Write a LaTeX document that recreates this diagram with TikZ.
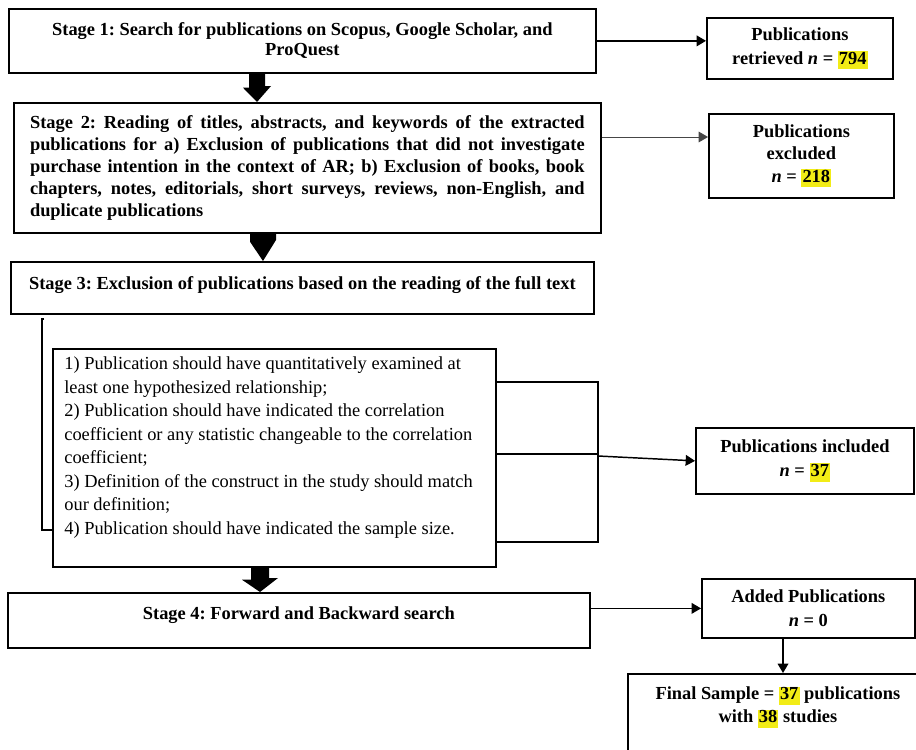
\documentclass[tikz,border=0pt]{standalone}
\usepackage{fontspec}
\setmainfont{Liberation Serif}
\usetikzlibrary{arrows.meta}
\definecolor{marker}{RGB}{242,236,22}
\newcommand{\yel}[1]{{\setlength{\fboxsep}{0.8pt}\colorbox{marker}{\vphantom{Ay}#1}}}
\frenchspacing

\begin{document}
\begin{tikzpicture}[
  x=0.75pt, y=-0.75pt,
  stage/.style={draw, line width=1.3pt, anchor=north west, align=center,
    inner sep=0pt, font=\fontsize{13.8}{15}\selectfont\bfseries},
  tally/.style={draw, line width=1.3pt, anchor=north west, align=center,
    inner sep=0pt, font=\fontsize{13.8}{18}\selectfont\bfseries},
  rules/.style={draw, line width=1.3pt, anchor=north west, inner sep=0pt,
    font=\fontsize{13.8}{17.6}\selectfont},
  flow/.style={-{Triangle[width=8pt,length=7pt]}, line width=1.1pt},
  link/.style={line width=1.1pt}
]
\useasboundingbox (0,0) rectangle (916,749);
\clip (0,0) rectangle (916,749);

% left column
\node[stage, minimum width=440.25pt, minimum height=48pt] (s1) at (8,8)
  {Stage 1: Search for publications on Scopus, Google Scholar, and\\ProQuest};
\node[stage, minimum width=440.25pt, minimum height=97.5pt, text width=416pt,
  align=justify, font=\fontsize{13.8}{16.5}\selectfont\bfseries] (s2) at (13,102)
  {Stage 2: Reading of titles, abstracts, and keywords of the extracted\linebreak
   publications for a) Exclusion of publications that did not investigate\linebreak
   purchase intention in the context of AR; b) Exclusion of books, book\linebreak
   chapters, notes, editorials, short surveys, reviews, non-English, and\linebreak
   duplicate publications};
\node[stage, minimum width=437.25pt, text height=20.5pt, text depth=18.5pt] (s3) at (10,261)
  {Stage 3: Exclusion of publications based on the reading of the full text};
\node[rules, minimum width=332.25pt, text height=15.75pt, text depth=147.75pt] (crit) at (52,348)
  {\parbox[t]{315pt}{\raggedright
   1) Publication should have quantitatively examined at\\
   least one hypothesized relationship;\\
   2) Publication should have indicated the correlation\\
   coefficient or any statistic changeable to the correlation\\
   coefficient;\\
   3) Definition of the construct in the study should match\\
   our definition;\\
   4) Publication should have indicated the sample size.}};
\node[stage, minimum width=436.5pt, text height=19.8pt, text depth=21.45pt] (s4) at (7,592)
  {Stage 4: Forward and Backward search};

% right column
\node[tally, minimum width=139.5pt, minimum height=45.75pt] (ret) at (706,17)
  {Publications\\retrieved \textit{n} = \yel{794}};
\node[tally, minimum width=138.75pt, minimum height=63pt,
  font=\fontsize{13.8}{17}\selectfont\bfseries] (exc) at (708,113)
  {Publications\\excluded\\ \textit{n} = \yel{218}};
\node[tally, minimum width=163.5pt, minimum height=49.5pt] (incl) at (695,427)
  {Publications included\\\textit{n} = \yel{37}};
\node[tally, minimum width=159.75pt, minimum height=44.25pt] (add) at (701,578)
  {Added Publications\\\textit{n} = 0};
\node[tally, text height=19.5pt, text depth=45.75pt,
  font=\fontsize{13.8}{17.25}\selectfont\bfseries] (fin) at (627,673)
  {\parbox[t]{225pt}{\centering Final Sample = \yel{37} publications\\
   with \yel{38} studies}};

% block arrows down the stages
\fill (s1.south -| 249,0) -- ++(0,14) -- ++(-6,0) -- (s2.north -| 257,0)
  -- ++(14,-16) -- ++(-6,0) -- ++(0,-14) -- cycle;
\fill (s2.south -| 250,0) -- ++(0,8) -- (s3.north -| 263,0)
  -- ++(13,-21) -- ++(0,-8) -- cycle;
\fill (crit.south -| 251,0) -- ++(0,12) -- ++(-9,0) -- (s4.north -| 260,0)
  -- ++(18,-14) -- ++(-9,0) -- ++(0,-12) -- cycle;

% bracket and joins round the criteria
\coordinate (hook) at (44,319);
\coordinate (join) at (598,456);
\draw[link] (hook) -| (42,530) -- (crit.west |- 0,530);
\draw[link] (crit.east |- 0,382) -| (join |- 0,542) -- (crit.east |- 0,542);
\draw[link, line width=2pt] (crit.east |- 0,454) -- (join |- 0,454);

% arrows to the counts
\draw[flow] (s1.east) -- (s1.east -| ret.west);
\draw[flow, line width=0.7pt, gray!55!black] (s2.east |- 0,137) -- (exc.west |- 0,137);
\draw[flow] (join) -- (incl.west);
\draw[flow, line width=0.8pt] (s4.east |- add.west) -- (add.west);
\draw[flow, line width=1pt] (add.south -| 783,0) -- (fin.north -| 783,0);
\end{tikzpicture}
\end{document}
